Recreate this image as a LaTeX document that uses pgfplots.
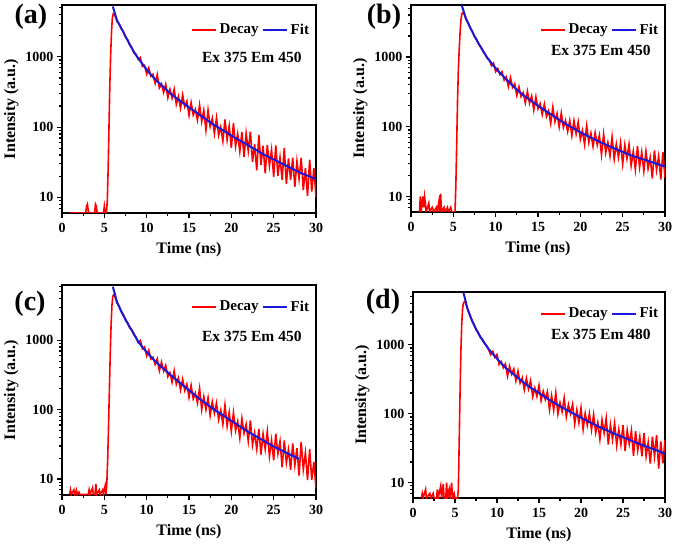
\documentclass[border=0pt]{standalone}
\usepackage{fontspec}
\setmainfont{Liberation Serif}
\usepackage{pgfplots}
\pgfplotsset{compat=1.18}

\definecolor{decayred}{RGB}{255,0,0}
\definecolor{fitblue}{RGB}{25,25,215}

\pgfplotsset{
  scale only axis, xmin=0, xmax=30, ymin=6,
  enlargelimits=false,
  xtick={0,5,...,30}, minor xtick={2.5,7.5,...,27.5},
  xticklabels={\textbf{0},\textbf{5},\textbf{10},\textbf{15},\textbf{20},\textbf{25},\textbf{30}},
  tick pos=left, tick align=outside,
  major tick length=5pt, minor tick length=3pt,
  every tick/.append style={black, line width=1.2pt},
  axis line style={line width=1.5pt},
  tick label style={font=\fontsize{14}{14}\selectfont\bfseries},
  xticklabel style={yshift=-1.5pt},
  label style={font=\fontsize{16}{16}\selectfont\bfseries},
  xlabel style={yshift=-3pt},
  legend columns=2,
  legend style={draw=none, fill=none, at={(0.985,0.935)}, anchor=north east,
    font=\fontsize{15}{15}\selectfont\bfseries, inner sep=1pt, column sep=2pt},
  legend image code/.code={\fill[#1, draw=none] (0pt,-1pt) rectangle (24pt,1pt);},
}
\tikzset{
  decayline/.style={color=decayred, line width=1.6pt},
  fitline/.style={color=fitblue, line width=2pt},
}
\newcommand{\exfont}{\fontsize{15.5}{15.5}\selectfont\bfseries}
\newcommand{\panfont}{\fontsize{28}{28}\selectfont\bfseries}

\begin{document}
\begin{tikzpicture}
\useasboundingbox (0,0) rectangle (675pt,544pt);

% (a)
\begin{axis}[ymode=log, at={(62pt,331pt)}, anchor=south west, width=254pt, height=208pt, ymax=5470,
  ytick={10,100,1000}, yticklabels={\textbf{10},\textbf{100},\textbf{1000}},
  minor ytick={7,8,9,20,30,40,50,60,70,80,90,200,300,400,500,600,700,800,900,2000,3000,4000,5000},
  xlabel={Time (ns)}, ylabel={Intensity (a.u.)}, legend style={at={(0.985,0.925)}}]
\addplot[decayline] coordinates {
(0.9,6)(2.8,6)(2.9,7.5)(3.0,8)(3.1,6.5)(3.2,6)(3.85,6)(3.95,8)(4.05,7.5)(4.15,6)(4.9,6)(5.0,7.5)(5.1,6)(5.25,6)
(5.35,9)(5.45,25)(5.55,100)(5.65,400)(5.75,1100)(5.85,2300)(5.95,3600)(6.05,4100)(6.25,3900)(6.5,3200)(6.75,2950)
(7.0,2500)(7.25,2280)(7.5,1900)(7.75,1760)(8.0,1470)(8.25,1360)(8.5,1130)(8.75,1090)(9.0,920)
(9.25,980)(9.5,728)(9.75,757)(10,570)(10.25,697)(10.5,530)(10.75,566)(11,419)(11.25,560)(11.5,361)(11.75,413)(12,311)
(12.25,407)(12.5,262)(12.75,343)(13,258)(13.25,346)(13.5,211)(13.75,274)(14,186)(14.25,288)(14.5,195)(14.75,234)(15,147)
(15.25,224)(15.5,149)(15.75,179)(16,126)(16.25,207)(16.5,120)(16.75,174)(17,90.4)(17.25,175)(17.5,102)(17.75,134)(18,80.7)
(18.25,136)(18.5,76.6)(18.75,101)(19,63.2)(19.25,129)(19.5,66.0)(19.75,104)(20,50.6)(20.25,114)(20.5,53.3)(20.75,80.4)(21,45.0)
(21.25,85.0)(21.5,37.9)(21.75,82.1)(22,45.9)(22.25,86.4)(22.5,32.0)(22.75,57.3)(23,24.2)(23.25,77.7)(23.5,29.1)(23.75,54.5)(24,22.0)
(24.25,56.0)(24.5,28.1)(24.75,47.5)(25,19.7)(25.25,55.1)(25.5,20.3)(25.75,36.9)(26,17.8)(26.25,50.7)(26.5,15.5)(26.75,35.9)(27,17.7)
(27.25,36.7)(27.5,14.1)(27.75,32.7)(28,18.4)(28.25,36.6)(28.5,12.7)(28.75,26.2)(29,10.5)(29.25,34.5)(29.5,12.1)(29.75,26.1)(30,10.0)
};
\addlegendentry{Decay}
\addplot[fitline, smooth] coordinates {
(6.0,5200)(6.25,4170)(6.5,3310)(7,2570)(7.5,1950)(8,1510)(8.5,1175)(9,955)(10,661)(11,479)(12,372)(13,288)(14,234)
(15,191)(16,158)(17,129)(18,107)(19,90.2)(20,75.9)(21,64.6)(22,55.0)(23,46.8)(24,39.8)(25,34.7)(26,30.2)(27,26.3)
(28,22.9)(29,20.4)(30,18.2)
};
\addlegendentry{Fit}
\node[anchor=east, font=\exfont] at (rel axis cs:0.957,0.75) {Ex 375 Em 450};
\end{axis}
\node[font=\panfont] at (31pt,527pt) {(a)};

% (b)
\begin{axis}[ymode=log, at={(411pt,332pt)}, anchor=south west, width=254pt, height=207pt, ymax=5560,
  ytick={10,100,1000}, yticklabels={\textbf{10},\textbf{100},\textbf{1000}},
  minor ytick={7,8,9,20,30,40,50,60,70,80,90,200,300,400,500,600,700,800,900,2000,3000,4000,5000},
  xlabel={Time (ns)}, ylabel={Intensity (a.u.)}, legend style={at={(0.985,0.925)}}]
\addplot[decayline] coordinates {
(1.0,6)(1.1,10)(1.2,6)(1.4,10)(1.5,7)(1.6,10)(1.7,8)(1.8,6)(2.1,8)(2.2,6)(2.5,7)(2.7,6)(3.0,7)(3.1,6)(3.3,8.5)(3.4,6)
(3.5,11)(3.6,6)(3.9,7)(4.0,6)(4.3,7)(4.4,6)(4.7,7)(4.8,6)(5.2,6)(5.3,15)(5.4,60)(5.5,250)(5.6,700)(5.7,1300)(5.8,2300)
(5.9,3400)(6.0,4100)(6.1,4300)(6.25,4200)(6.5,3450)(6.75,3100)(7,2580)(7.25,2330)(7.5,1950)(7.75,1790)(8,1510)(8.25,1400)
(8.5,1200)(8.75,1110)(9,960)
(9.25,917)(9.5,748)(9.75,819)(10,615)(10.25,681)(10.5,561)(10.75,614)(11,467)(11.25,518)(11.5,374)(11.75,507)(12,366)
(12.25,411)(12.5,282)(12.75,376)(13,269)(13.25,309)(13.5,219)(13.75,322)(14,217)(14.25,276)(14.5,174)(14.75,268)(15,181)
(15.25,215)(15.5,150)(15.75,211)(16,140)(16.25,169)(16.5,111)(16.75,191)(17,118)(17.25,155)(17.5,98.9)(17.75,157)(18,97.7)
(18.25,123)(18.5,85.3)(18.75,123)(19,74.6)(19.25,122)(19.5,79.1)(19.75,117)(20,66.1)(20.25,88.7)(20.5,55.8)(20.75,104)(21,59.4)
(21.25,80.9)(21.5,52.0)(21.75,82.4)(22,54.6)(22.25,75.2)(22.5,39.8)(22.75,78.3)(23,42.1)(23.25,59.7)(23.5,38.0)(23.75,71.4)(24,34.3)
(24.25,56.6)(24.5,36.4)(24.75,59.2)(25,29.3)(25.25,54.9)(25.5,34.8)(25.75,55.8)(26,27.7)(26.25,44.1)(26.5,24.3)(26.75,52.5)(27,26.4)
(27.25,43.3)(27.5,23.1)(27.75,44.5)(28,25.1)(28.25,36.3)(28.5,18.2)(28.75,45.7)(29,23.9)(29.25,38.0)(29.5,17.5)(29.75,43.7)(30,18.6)
};
\addlegendentry{Decay}
\addplot[fitline, smooth] coordinates {
(6.0,5500)(6.25,4400)(6.5,3550)(7,2630)(7.5,1995)(8,1550)(8.5,1230)(9,977)(10,692)(11,513)(12,389)(13,302)(14,245)
(15,200)(16,166)(17,138)(18,115)(19,97.7)(20,83.2)(21,72.4)(22,63.1)(23,55.6)(24,49.0)(25,43.7)(26,38.9)(27,35.5)
(28,32.4)(29,29.5)(30,26.9)
};
\addlegendentry{Fit}
\node[anchor=east, font=\exfont] at (rel axis cs:0.957,0.78) {Ex 375 Em 450};
\end{axis}
\node[font=\panfont] at (384pt,527pt) {(b)};

% (c)
\begin{axis}[ymode=log, at={(62pt,49pt)}, anchor=south west, width=254pt, height=210pt, ymin=5.9, ymax=6250,
  ytick={10,100,1000}, yticklabels={\textbf{10},\textbf{100},\textbf{1000}},
  minor ytick={6,7,8,9,20,30,40,50,60,70,80,90,200,300,400,500,600,700,800,900,2000,3000,4000,5000,6000},
  xlabel={Time (ns)}, ylabel={Intensity (a.u.)}, legend style={at={(0.985,0.94)}}]
\addplot[decayline] coordinates {
(0.9,6)(1.0,7)(1.1,6)(1.4,7)(1.5,6)(1.7,7)(1.8,6)(2.0,6.5)(2.1,6)(3.1,6)(3.2,7)(3.3,6)(3.6,7.5)(3.7,6)(3.9,6)(4.0,8.5)
(4.1,6)(4.4,7)(4.5,6)(4.8,7)(4.9,6)(5.1,8)(5.2,6)(5.3,9)(5.4,20)(5.5,60)(5.6,200)(5.7,650)(5.8,1700)(5.9,3200)(6.0,4300)
(6.1,4500)(6.25,4300)(6.5,3450)(6.75,3100)(7,2560)(7.25,2330)(7.5,1940)(7.75,1800)(8,1500)(8.25,1410)(8.5,1190)(8.75,1100)(9,925)
(9.25,992)(9.5,750)(9.75,801)(10,597)(10.25,720)(10.5,536)(10.75,571)(11,449)(11.25,540)(11.5,363)(11.75,485)(12,360)
(12.25,436)(12.5,299)(12.75,342)(13,248)(13.25,363)(13.5,233)(13.75,287)(14,193)(14.25,275)(14.5,189)(14.75,233)(15,150)
(15.25,224)(15.5,143)(15.75,173)(16,125)(16.25,203)(16.5,100)(16.75,154)(17,100)(17.25,148)(17.5,82.2)(17.75,130)(18,88.7)
(18.25,125)(18.5,71.8)(18.75,98.2)(19,61.7)(19.25,117)(19.5,57.8)(19.75,91.4)(20,48.8)(20.25,90.2)(20.5,50.0)(20.75,67.8)(21,39.0)
(21.25,75.0)(21.5,45.7)(21.75,61.7)(22,35.1)(22.25,70.2)(22.5,31.0)(22.75,46.2)(23,27.1)(23.25,52.7)(23.5,22.6)(23.75,44.6)(24,26.9)
(24.25,48.8)(24.5,21.3)(24.75,36.4)(25,18.7)(25.25,45.2)(25.5,23.3)(25.75,35.1)(26,14.8)(26.25,35.9)(26.5,17.2)(26.75,26.6)(27,13.6)
(27.25,32.7)(27.5,15.8)(27.75,27.9)(28,11.2)(28.25,34.4)(28.5,13.8)(28.75,23.9)(29,9.7)(29.25,26.9)(29.5,9.8)(29.75,17.6)(30,7.4)
};
\addlegendentry{Decay}
\addplot[fitline, smooth] coordinates {
(6.0,5900)(6.25,4620)(6.5,3550)(7,2630)(7.5,1995)(8,1550)(8.5,1230)(9,955)(10,676)(11,501)(12,389)(13,302)(14,240)
(15,191)(16,151)(17,123)(18,100)(19,83.2)(20,69.2)(21,57.5)(22,47.9)(23,40.7)(24,34.7)(25,29.5)(26,25.7)(27,22.4)(28,19.5)
};
\addlegendentry{Fit}
\node[anchor=east, font=\exfont] at (rel axis cs:0.957,0.755) {Ex 375 Em 450};
\end{axis}
\node[font=\panfont] at (30pt,240pt) {(c)};

% (d)
\begin{axis}[ymode=log, at={(413pt,46pt)}, anchor=south west, width=252pt, height=206pt, ymax=5840,
  ytick={10,100,1000}, yticklabels={\textbf{10},\textbf{100},\textbf{1000}},
  minor ytick={7,8,9,20,30,40,50,60,70,80,90,200,300,400,500,600,700,800,900,2000,3000,4000,5000},
  xlabel={Time (ns)}, ylabel={Intensity (a.u.)}, legend style={at={(0.985,0.94)}}]
\addplot[decayline] coordinates {
(1.0,6)(1.1,7)(1.2,6)(1.5,8)(1.6,6)(2.0,7)(2.1,6)(2.4,7)(2.5,6)(2.8,6)(2.9,8)(3.0,6)(3.3,9)(3.4,6)(3.6,9.5)(3.7,6)(3.9,6)
(4.0,10)(4.1,6)(4.3,8)(4.4,6)(4.6,10)(4.7,6)(4.9,7)(5.0,6)(5.3,6)(5.4,8)(5.5,40)(5.6,200)(5.7,800)(5.8,2000)(5.9,3300)
(6.0,4000)(6.1,4200)(6.25,4100)(6.5,3250)(6.75,2800)(7,2240)(7.25,2000)(7.5,1660)(7.75,1530)(8,1290)(8.25,1210)(8.5,1050)
(8.75,980)(9,850)
(9.25,719)(9.5,805)(9.75,656)(10,724)(10.25,517)(10.5,574)(10.75,464)(11,530)(11.25,351)(11.5,490)(11.75,376)(12,447)
(12.25,299)(12.5,417)(12.75,279)(13,331)(13.25,222)(13.5,327)(13.75,228)(14,303)(14.25,177)(14.5,237)(14.75,179)(15,258)
(15.25,155)(15.5,212)(15.75,161)(16,209)(16.25,114)(16.5,183)(16.75,113)(17,202)(17.25,99.4)(17.5,145)(17.75,107)(18,170)
(18.25,90.2)(18.5,136)(18.75,100)(19,138)(19.25,71.4)(19.5,114)(19.75,73.6)(20,122)(20.25,59.3)(20.5,101)(20.75,68.2)(21,101)
(21.25,58.6)(21.5,97.3)(21.75,53.1)(22,75.0)(22.25,42.5)(22.5,81.9)(22.75,52.4)(23,86.7)(23.25,35.7)(23.5,69.4)(23.75,42.2)(24,73.3)
(24.25,34.6)(24.5,59.0)(24.75,35.8)(25,68.1)(25.25,28.9)(25.5,57.7)(25.75,36.4)(26,56.8)(26.25,24.6)(26.5,55.8)(26.75,29.4)(27,46.6)
(27.25,24.2)(27.5,52.2)(27.75,24.0)(28,38.6)(28.25,18.9)(28.5,46.6)(28.75,24.0)(29,49.0)(29.25,16.0)(29.5,39.7)(29.75,19.1)(30,41.5)
};
\addlegendentry{Decay}
\addplot[fitline, smooth] coordinates {
(6.0,5750)(6.25,4365)(6.5,3310)(7,2290)(7.5,1700)(8,1320)(8.5,1070)(9,871)(10,631)(11,468)(12,372)(13,295)(14,240)
(15,200)(16,166)(17,140)(18,119)(19,102)(20,88.1)(21,75.9)(22,66.1)(23,58.2)(24,51.3)(25,45.7)(26,40.7)(27,36.3)
(28,32.7)(29,29.5)(30,26.3)
};
\addlegendentry{Fit}
\node[anchor=east, font=\exfont] at (rel axis cs:0.957,0.795) {Ex 375 Em 480};
\end{axis}
\node[font=\panfont] at (383pt,242pt) {(d)};
\end{tikzpicture}
\end{document}
